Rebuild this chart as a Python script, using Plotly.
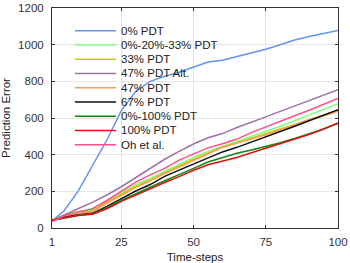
import plotly.graph_objects as go

# time-steps at which values were read
steps = [1, 5, 10, 15, 20, 25, 30, 35, 40, 45, 50, 55, 60, 65, 70, 75, 80, 85, 90, 95, 100]

pdt_0 = [40, 90, 200, 340, 480, 640, 745, 800, 828, 850, 878, 905, 915, 935, 955, 975, 1000, 1025, 1045, 1062, 1078]
pdt_0_20_33 = [42, 68, 90, 97, 145, 192, 238, 270, 308, 345, 385, 418, 445, 472, 500, 527, 555, 585, 615, 645, 678]
pdt_33 = [42, 65, 88, 92, 140, 185, 228, 262, 302, 338, 375, 410, 442, 465, 490, 512, 540, 565, 592, 615, 640]
pdt_47_alt = [40, 70, 105, 140, 180, 225, 276, 325, 375, 418, 458, 492, 515, 548, 575, 606, 636, 665, 692, 722, 754]
pdt_47 = [40, 62, 82, 88, 135, 180, 222, 257, 297, 332, 370, 405, 440, 462, 485, 508, 535, 562, 590, 612, 635]
pdt_67 = [40, 58, 72, 80, 118, 160, 202, 237, 282, 316, 348, 380, 415, 440, 468, 495, 525, 555, 585, 615, 645]
pdt_0_100 = [42, 56, 70, 78, 110, 150, 188, 222, 258, 290, 325, 360, 385, 408, 425, 443, 465, 488, 512, 540, 570]
pdt_100 = [42, 55, 68, 75, 105, 145, 180, 212, 248, 280, 315, 345, 365, 385, 410, 435, 458, 483, 510, 540, 573]
oh_et_al = [35, 65, 88, 105, 150, 200, 250, 290, 325, 370, 405, 437, 460, 485, 520, 552, 582, 612, 642, 675, 707]

series = [
    ('0% PDT', pdt_0, '#6495ED'),
    ('0%-20%-33% PDT', pdt_0_20_33, '#80FF80'),
    ('33% PDT', pdt_33, '#CCCC00'),
    ('47% PDT Alt.', pdt_47_alt, '#A070A8'),
    ('47% PDT', pdt_47, '#FF9955'),
    ('67% PDT', pdt_67, '#111111'),
    ('0%-100% PDT', pdt_0_100, '#118811'),
    ('100% PDT', pdt_100, '#DD1111'),
    ('Oh et al.', oh_et_al, '#FF4F88'),
]

x_ticks = [1, 25, 50, 75, 100]
y_ticks = [0, 200, 400, 600, 800, 1000, 1200]

fig = go.Figure()
for name, vals, col in series:
    fig.add_trace(go.Scatter(x=steps, y=vals, mode='lines', name=name, showlegend=False,
                             line=dict(color=col, width=1.5)))

# compact legend (plotly's own legend rows are too tall), drawn in paper coords
for i, (name, vals, col) in enumerate(series):
    ly = 0.897 - i * 0.0648
    fig.add_shape(type='line', xref='paper', yref='paper', x0=0.080, x1=0.224, y0=ly, y1=ly,
                  line=dict(color=col, width=1.5))
    fig.add_annotation(xref='paper', yref='paper', x=0.236, y=ly, text=name, showarrow=False,
                       xanchor='left', yanchor='middle', font=dict(size=11.5, color='#222222'))

axis_style = dict(showline=True, linecolor='#333333', linewidth=1, mirror='ticks',
                  ticks='inside', ticklen=3, tickcolor='#333333', automargin=False,
                  showgrid=True, gridcolor='#e6e6e6', zeroline=False,
                  tickfont=dict(size=11.5, color='#333333'))

fig.update_xaxes(range=[1, 100], tickvals=x_ticks, ticklabelstandoff=3,
                 title=dict(text='Time-steps', font=dict(size=11.5, color='#222222')), **axis_style)
fig.update_yaxes(range=[0, 1200], tickvals=y_ticks, ticklabelstandoff=5,
                 title=dict(text='Prediction Error', font=dict(size=11.5, color='#222222')), **axis_style)

fig.update_layout(
    width=350, height=263,
    margin=dict(l=52, r=12, t=8, b=35),
    paper_bgcolor='white', plot_bgcolor='white',
    font=dict(family='Liberation Sans, Arial, sans-serif', size=11.5, color='#222222'),
    showlegend=False,
)

# drop the page's default body margin so the figure sits at the window's corner
fig.write_html("out.html", config={'displayModeBar': False},
               post_script="document.body.style.margin='0';")
